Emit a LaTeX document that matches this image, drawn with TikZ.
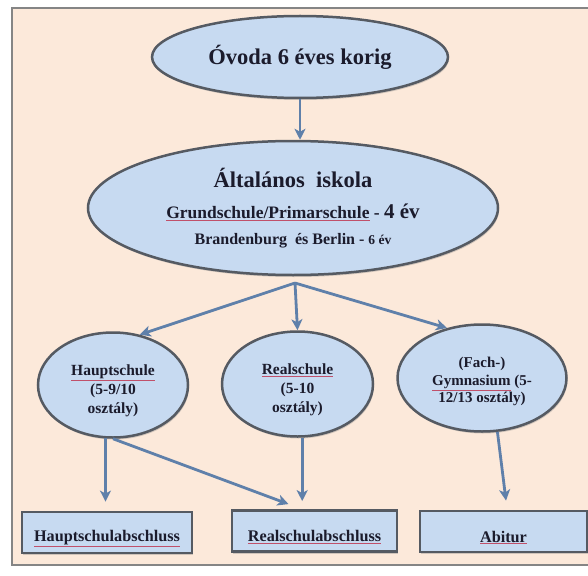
\documentclass[tikz,border=0pt]{standalone}
\usepackage{fontspec}
\setmainfont{Liberation Serif}
\usetikzlibrary{shapes.geometric,arrows.meta,shadows,calc}

\definecolor{bgpeach}{HTML}{FCE9DA}
\definecolor{framegray}{HTML}{858585}
\definecolor{shapefill}{HTML}{C7DAF1}
\definecolor{shapeline}{HTML}{555A62}
\definecolor{arrowblue}{HTML}{5F80AA}
\definecolor{txt}{HTML}{1B1B2C}
\definecolor{squig}{HTML}{C0506A}

% red proofing underline under a word
\newcommand\spellmark[1]{{\color{squig}\underline{\color{txt}#1}}}
% text lowered inside its box without changing the box size
\newcommand\lowtext[1]{\raisebox{-6pt}[\height][\depth]{#1}}
% invisible strut that pushes a text block down in its shape
\newcommand\topstrut[1]{\rule{0pt}{#1}}

\begin{document}
\begin{tikzpicture}[x=1pt,y=-1pt,
  oval/.style={ellipse, draw=shapeline, line width=2.5pt, fill=shapefill,
    inner sep=0pt, text=txt, font=\bfseries,
    drop shadow={shadow xshift=1pt, shadow yshift=-2pt, opacity=0.35}},
  smalloval/.style={oval, minimum height=105pt, align=center,
    font=\bfseries\fontsize{15.5}{19}\selectfont},
  endbox/.style={rectangle, draw=shapeline, line width=2.8pt, fill=shapefill,
    inner sep=0pt, minimum height=41pt, text=txt,
    font=\bfseries\fontsize{16.2}{18}\selectfont,
    drop shadow={shadow xshift=1pt, shadow yshift=-2pt, opacity=0.35}},
  arr/.style={draw=arrowblue, line width=2.8pt,
    -{Stealth[length=11pt,width=11pt,inset=3pt]}}]

\useasboundingbox (0,0) rectangle (588,575);
\clip (0,0) rectangle (588,575);
\fill[white] (0,0) rectangle (588,575);
\draw[framegray, line width=1.6pt, fill=bgpeach] (12,8) rectangle (610,565);

% kindergarten and primary school
\node[oval, minimum width=296pt, minimum height=82pt,
      font=\bfseries\fontsize{22.5}{26}\selectfont] (ovoda) at (300,57)
  {Óvoda 6 éves korig};

\node[oval, minimum width=410pt, minimum height=134pt, align=center] (alt) at (293,208)
  {{\fontsize{22.5}{24}\selectfont Általános\ \ iskola}\\[15pt]
   {\fontsize{17.5}{20}\selectfont \spellmark{Grundschule/Primarschule} -
    \fontsize{21}{20}\selectfont 4 év}\\[12pt]
   {\fontsize{16}{16}\selectfont Brandenburg\ \ és Berlin - \fontsize{13.5}{14}\selectfont 6 év}};

% secondary school types
\node[smalloval, minimum width=150pt] (hs) at (113,385)
  {\topstrut{22pt}\spellmark{Hauptschule}\\(5-9/10\\osztály)};
\node[smalloval, minimum width=151pt] (rs) at (297.5,384)
  {\topstrut{22pt}\spellmark{Realschule}\\(5-10\\osztály)};
\node[smalloval, minimum width=169pt, minimum height=107pt,
      font=\bfseries\fontsize{15}{17.5}\selectfont] (gy) at (482,378)
  {\topstrut{18pt}(Fach-)\\\spellmark{Gymnasium} (5-\\12/13 osztály)};

% school leaving certificates
\node[endbox, minimum width=170pt] (ha) at (107,532.5)
  {\lowtext{\spellmark{Hauptschulabschluss}}};
\node[endbox, minimum width=165pt] (ra) at (314.5,531)
  {\lowtext{\spellmark{Realschulabschluss}}};
\node[endbox, minimum width=167pt] (ab) at (503.5,531.5)
  {\lowtext{\spellmark{Abitur}}};

% connectors
\coordinate (split) at (295,283);
\draw[arr] (ovoda.south) -- (ovoda.south |- alt.north);
\draw[arr] (split) -- (hs.62);
\draw[arr] (split) -- (rs.north);
\draw[arr] (split) -- (gy.125);

\draw[arr, shorten >=9pt] (hs.262) -- (hs.262 |- ha.north);
\draw[arr] (hs.south) -- ($(ra.north)+(-26,-5)$);
\draw[arr, shorten >=8pt] (rs.275) -- (rs.275 |- ra.north);
\draw[arr] (gy.-74) -- ($(ab.north)+(2.5,-9)$);
\end{tikzpicture}
\end{document}
